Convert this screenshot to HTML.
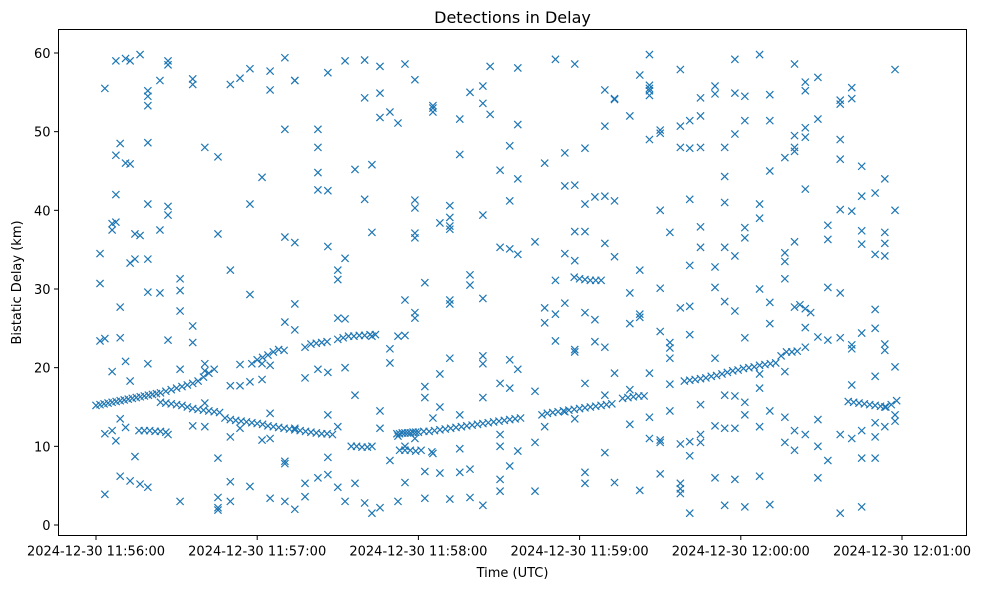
<!DOCTYPE html>
<html><head><meta charset="utf-8"><title>Detections in Delay</title>
<style>
html,body{margin:0;padding:0;background:#fff;}
svg{display:block;font-family:"DejaVu Sans","Liberation Sans",sans-serif;}
</style></head>
<body>
<svg id="chart" width="983" height="590" viewBox="0 0 983 590"></svg>
<script>
// ---- chart data (time in seconds after 2024-12-30 11:56:00 UTC, delay in km) ----
const xTickSeconds = [0, 60, 120, 180, 240, 300];
const xTickLabels = ["2024-12-30 11:56:00","2024-12-30 11:57:00","2024-12-30 11:58:00","2024-12-30 11:59:00","2024-12-30 12:00:00","2024-12-30 12:01:00"];
const yTickValues = [0, 10, 20, 30, 40, 50, 60];
const yTickLabels = ["0","10","20","30","40","50","60"];

const trackPoints = [
[0,15.2],[1.5,15.3],[3,15.4],[4.5,15.5],[6,15.6],[7.5,15.7],[9,15.8],[10.5,15.9],[12,16],[13.5,16.1],[15,16.2],[16.5,16.3],[18,16.4],[19.5,16.5],[21,16.6],[22.5,16.7],[24,16.8],[26,17],[28,17.2],[30,17.4],[32,17.6],[34,17.8],[36,18],[38,18.3],[40,18.8],[42,19.3],[44,19.8],
[24,15.6],[26,15.5],[28,15.4],[30,15.3],[32,15.2],[34,15],[36,14.8],[38,14.7],[40,14.6],[42,14.5],[44,14.4],[46,14.3],
[48,13.6],[50,13.4],[52,13.3],[54,13.2],[56,13.1],[58,13],[60,12.9],[62,12.8],[64,12.6],[66,12.5],[68,12.4],[70,12.3],[72,12.2],[74,12.1],[76,12],[78,11.9],[80,11.8],[82,11.7],[84,11.6],[86,11.6],[88,11.5],
[16,12],[18,12],[20,12],[22,11.9],[24,11.9],[26,11.8],
[58,20.5],[60,21],[62,21.3],[64,21.6],[66,22],[68,22.3],[70,22.2],[80,23],[82,23.1],[84,23.2],[86,23.3],[90,23.6],[92,23.8],[94,24],[96,24],[98,24.1],[100,24.1],[102,24.2],[104,24.2],
[112,11.6],[113,11.6],[114,11.7],[115,11.7],[116,11.7],[117,11.7],[118,11.8],[119,11.8],[120,11.8],[122,11.9],[124,11.9],[126,12],[128,12.1],[130,12.2],[132,12.3],[134,12.4],[136,12.5],[138,12.6],[140,12.7],[142,12.8],[144,12.9],[146,13],[148,13.1],[150,13.2],[152,13.3],[154,13.4],[156,13.5],[158,13.6],
[113,9.5],[115,9.5],[117,9.5],[119,9.4],[121,9.5],[125,9.3],[95,10],[97,10],[99,9.9],[101,9.9],
[166,14],[168,14.2],[170,14.3],[172,14.4],[174,14.5],[176,14.6],[178,14.7],[180,14.8],[182,14.9],[184,15],[186,15.1],[188,15.2],[190,15.3],[192,15.4],
[196,16.1],[198,16.2],[200,16.3],[202,16.4],[204,16.4],
[219,18.3],[221,18.4],[223,18.5],[225,18.6],[227,18.7],[229,18.9],[231,19],[233,19.2],[235,19.4],[237,19.6],[239,19.7],[241,19.9],[243,20],[245,20.1],[247,20.3],[249,20.4],[251,20.5],[253,20.6],[255,21.5],[257,22],[259,22],[261,22.1],
[280,15.7],[282,15.6],[284,15.5],[286,15.4],[288,15.3],[290,15.2],[292,15.1],[294,15],[296,15.3],[298,15.8],
[178,31.5],[180,31.3],[182,31.2],[184,31.1],[186,31.1],[188,31.1],[262,28],[264,27.5],[266,27]
];

const noiseTimes = [1.5,3.3,6,7.4,9,11,12.7,14.5,16.4,19.3,23.8,26.8,31.3,36,40.5,45.4,50,53.6,57.3,61.8,64.8,70.3,74,77.8,82.6,86.3,90,92.7,96.4,100,102.7,105.7,109.4,112.4,115,118.7,122.4,125.4,128,131.7,135.4,139.2,144,146.7,150.4,154,157,163.4,167,171,174.5,178.2,182,185.7,189.4,193,198.7,202.4,206,210,213.6,217.5,221,225,230.4,234,237.8,241.5,247,250.8,256.4,260,264,268.7,272.4,277,281.3,285,290,293.6,297.4];
const noiseDelays = [
[34.5,30.7,23.4],[55.5,3.9,11.6,23.7],[38.3,37.5,19.5,12],[42,47,59,38.5,10.7],[27.7,23.8,6.2,13.5,48.5],[59.3,20.8,12.4,46],[33.3,45.9,59,18.3,5.6],[33.8,8.7,37],[59.8,5.2,36.8],[53.3,48.6,54.5,33.8,29.6,40.8,4.8,55.2,20.5],[29.5,56.5,37.5],[59,40.5,39.4,58.5,23.5,11.5],[31.3,3,27.2,29.8,19.8],[56.7,56,25.3,23.2,12.6],[48,20.5,19.6,15.5,12.5],[46.8,37,1.9,3.5,8.5,2.2],[56,32.4,11.2,5.5,3,17.7],[56.8,17.7,20.4,12.3],[58,40.8,29.3,4.9,18.2],[44.2,18.5,20.5,10.8],[55.3,57.7,3.4,11,14.2,20.3],[59.4,36.6,50.3,25.8,8.1,7.8,3],[56.5,56.5,35.9,28.1,2,12.3,24.8],[3.6,5.3,18.7,22.6],[48,50.3,42.6,44.8,19.8,6],[57.5,42.5,35.4,19.4,8.6,6.4,14],[32.4,31.2,4.8,12.5,26.3],[26.2,33.9,59,3,20],[16.5,5.3,45.2],[41.4,54.3,59.1,2.8],[37.2,45.8,24,1.5,10],[51.8,54.9,58.3,14.5,12.3,2.2],[52.5,22.4,20.6,8.2],[51.1,24,11.3,3],[58.6,28.6,24.1,5.4,10],[56.6,37.1,41.3,40.3,36.5,27,26.3,11],[3.4,6.8,16.2,17.6,30.8],[53.3,53,52.5,13.6,9.1],[38.4,15,19.2,6.6],[40.6,38,39.1,37.6,28.1,28.6,21.2,3.3],[47.1,51.6,9.7,14,6.7],[31.8,30.5,55,3.5,7.1],[53.6,55.8,39.4,21.5,20.5,2.5,16.2,28.8],[58.3,52.2],[45.1,35.3,4.3,5.8,10,11.5,18],[48.2,41.2,35.1,21,17.4,7.5],[58.1,50.9,44,34.4,19.8,9.4],[36,4.3,10.5,17],[25.7,46,27.6,12.5],[31.1,59.2,26.8,23.4],[47.3,43.1,28.2,34.5,14.4],[58.6,43.2,37.3,33.6,22.3,22,13.5],[47.9,40.8,37.3,27,6.7,5.3,18],[41.7,26.1,23.3],[50.7,55.3,41.8,35.8,22.6,16.5,9.2],[54.2,54.1,41.2,34.1,19.3,5.4],[25.6,17.2,12.8,29.5,52],[57.2,32.4,26.4,26.8,4.4],[54.6,49,55.5,55.2,55.9,59.8,11,13.7,19.3],[40,50.2,49.8,10.5,10.8,24.6,30.1,6.5],[37.2,23.2,22.5,17.9,14.5,21.2],[57.9,50.7,48,4.6,5.3,4,10.3,27.6],[51.4,47.9,41.4,33,24.2,10.6,8.8,1.5,27.8],[52,48,37.9,35.3,54.3,11.5,10.5,15.3],[54.8,55.8,32.8,30.2,21.2,12.6,6],[44.3,48,41,35.3,28.4,16.5,12.3,2.5],[59.2,54.9,49.7,34.2,27.2,16.4,12.3,5.8],[54.5,51.4,37.8,36.5,23.8,15.6,14,2.3],[59.8,40.8,39,30,17.4,19.2,12.5,6.2],[54.7,51.4,45,28.3,25.6,14.5,2.6],[46.7,33.5,34.6,31.3,10.5,13.7,19.5],[58.6,48,49.5,47.5,36,27.7,12,9.5],[56.3,55.2,49.3,50.5,42.7,25.1,22.6,11.5],[56.9,51.6,23.9,13.4,10,6],[38.1,36.3,30.2,23.5,8.2],[54,53.5,49,46.5,40.1,29.5,23.8,11.5,1.5],[55.6,54.2,39.9,22.9,22.4,17.8,11],[45.6,41.8,37.4,35.7,12,8.5,2.3,24.4],[42.2,34.4,27.4,25,8.5,13,18.9,11.2],[44,37.2,35.8,34.2,23,22.2,15,12.5],[57.9,40,20.1,14,13.2]
];

// ---- layout ----
const NS = "http://www.w3.org/2000/svg";
const svg = document.getElementById("chart");
const plot = {left:58.5, right:966.5, top:29.5, bottom:535.5};
const xScale = t => 96 + t * (806/300);
const yScale = d => 525 - d * (472/60);
const COLOR = "#1f77b4";

function mk(tag, attrs, parent){
  const el = document.createElementNS(NS, tag);
  for (const k in attrs) el.setAttribute(k, attrs[k]);
  (parent||svg).appendChild(el);
  return el;
}

// title
const title = mk("text",{x:(plot.left+plot.right)/2,y:23,"text-anchor":"middle","font-size":"16"});
title.textContent = "Detections in Delay";



// markers
const marks = mk("g",{stroke:COLOR,"stroke-width":"1.2",fill:"none"});


function drawX(t,d){
  const cx = xScale(t), cy = yScale(d), r = 3.6;
  const p = mk("path",{d:`M${cx-r},${cy-r}L${cx+r},${cy+r}M${cx-r},${cy+r}L${cx+r},${cy-r}`}, marks);
  
  
}
trackPoints.forEach(p => drawX(p[0], p[1]));
noiseTimes.forEach((t,i) => noiseDelays[i].forEach(d => drawX(t,d)));

// axes frame
const frame = mk("rect",{x:plot.left,y:plot.top,width:plot.right-plot.left,height:plot.bottom-plot.top,fill:"none",stroke:"#000","stroke-width":"1"});



// x ticks
xTickSeconds.forEach((t,i) => {
  const x = xScale(t);
  const tk = mk("line",{x1:x,x2:x,y1:plot.bottom,y2:plot.bottom+4.5,stroke:"#000"});
  
  
  const lb = mk("text",{x:x,y:plot.bottom+20,"text-anchor":"middle","font-size":"13"});
  lb.textContent = xTickLabels[i];
  
  
});
// y ticks
yTickValues.forEach((v,i) => {
  const y = yScale(v);
  const tk = mk("line",{x1:plot.left-4.5,x2:plot.left,y1:y,y2:y,stroke:"#000"});
  
  
  const lb = mk("text",{x:plot.left-8,y:y+5,"text-anchor":"end","font-size":"13"});
  lb.textContent = yTickLabels[i];
  
  
});
// axis titles
const xt = mk("text",{x:(plot.left+plot.right)/2,y:577,"text-anchor":"middle","font-size":"13"});
xt.textContent = "Time (UTC)";


const yt = mk("text",{x:0,y:0,"text-anchor":"middle","font-size":"13",transform:`translate(21,${(plot.top+plot.bottom)/2}) rotate(-90)`});
yt.textContent = "Bistatic Delay (km)";


</script>
</body></html>
